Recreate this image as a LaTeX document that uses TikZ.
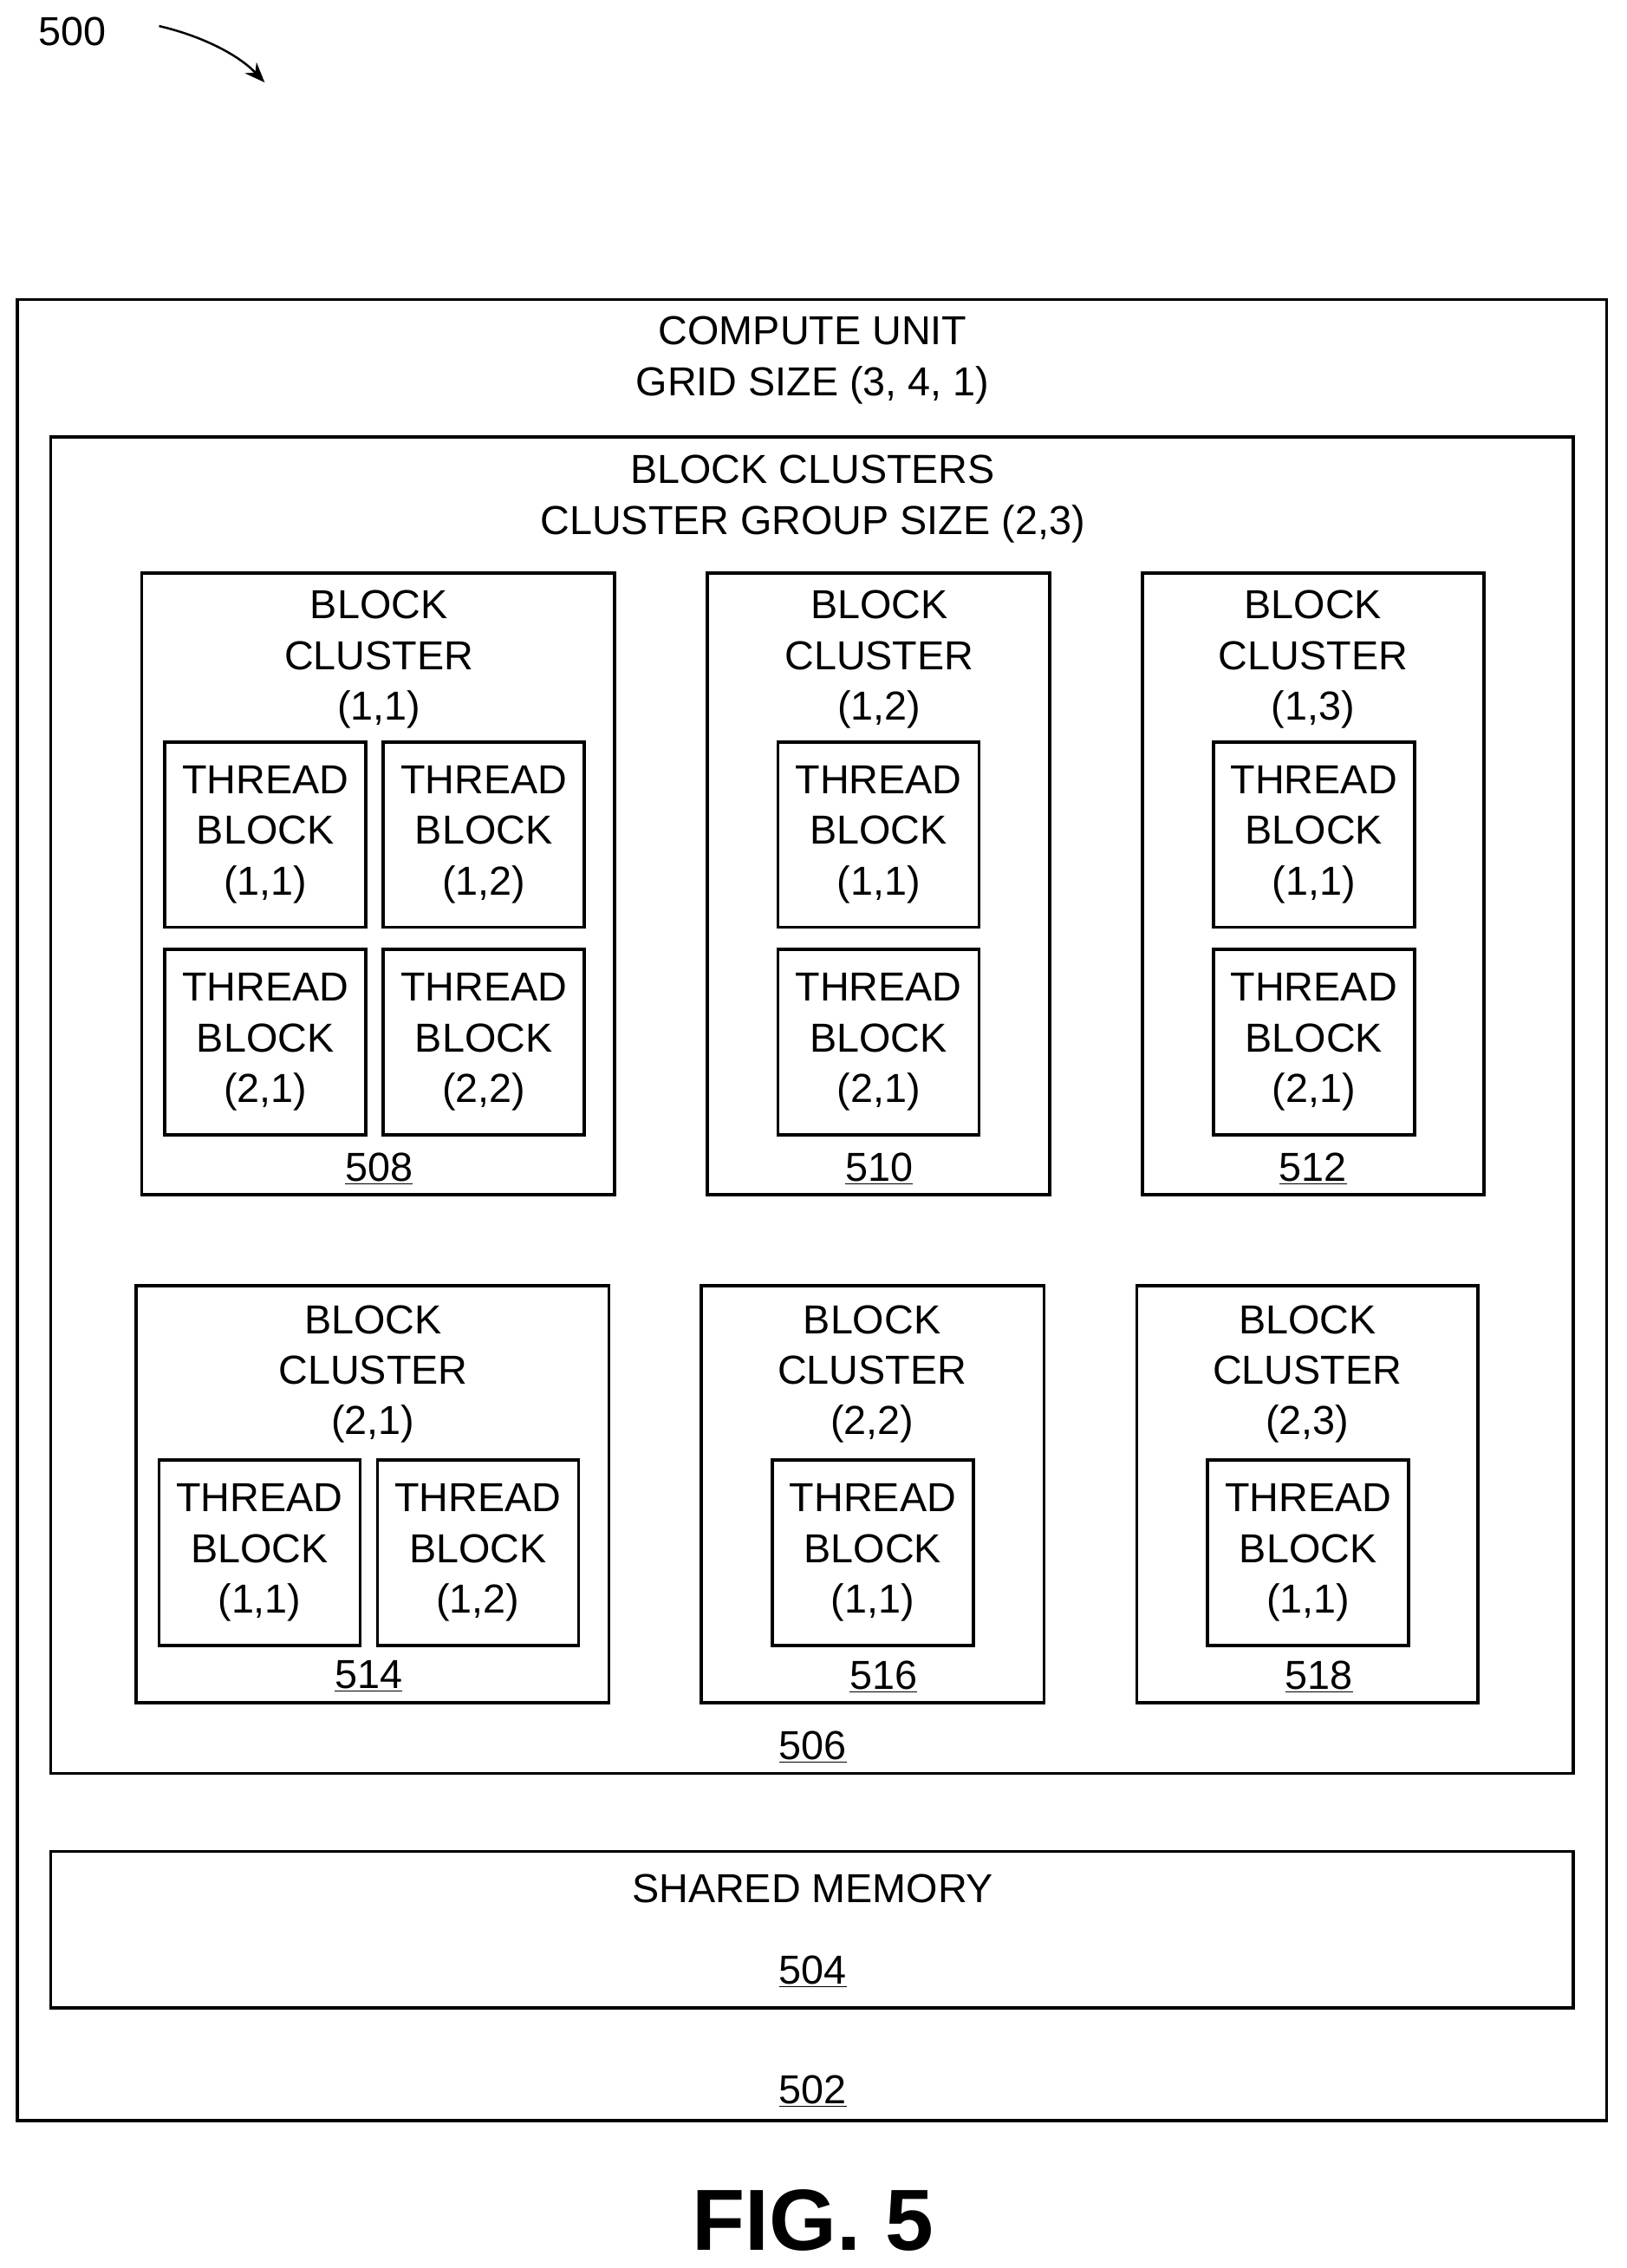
\documentclass[tikz,border=0pt]{standalone}
\usepackage{fontspec}
\setmainfont{Liberation Sans}
\usetikzlibrary{arrows.meta}

\begin{document}
\begin{tikzpicture}[x=1pt,y=-1pt,
		box/.style={draw,line width=2.2pt},
		txt/.style={align=center,inner sep=0pt,font=\fontsize{28}{35}\selectfont},
		tblock/.style={box,txt,minimum width=139pt,minimum height=128pt}]
		\useasboundingbox (0,0) rectangle (1125,1568);
		\newcommand{\reflabel}[3]{\node[txt] (#1) at (#2) {\underline{#3}};}

		\node[txt] (fig) at (50,22) {500};
		\draw[line width=1.5pt,-{Stealth[length=14pt,width=11pt]}] (110,18) .. controls (140,25) and (165,38) .. (183,57);

		% compute unit 502
		\draw[box] (12,207) rectangle (1111,1466);
		\node[txt] (cu) at (562,249) {COMPUTE UNIT\\GRID SIZE (3, 4, 1)};
		\reflabel{l502}{562,1446}{502}

		% block clusters 506
		\draw[box] (35,302) rectangle (1088,1226);
		\node[txt] (bcs) at (562,345) {BLOCK CLUSTERS\\CLUSTER GROUP SIZE (2,3)};
		\reflabel{l506}{562,1208}{506}

		% first row of clusters
		\draw[box] (98,396) rectangle (425,826);
		\draw[box] (489,396) rectangle (726,826);
		\draw[box] (790,396) rectangle (1026,826);
		\node[txt] (c11) at (262,456) {BLOCK\\CLUSTER\\(1,1)};
		\node[txt] (c12) at (608,456) {BLOCK\\CLUSTER\\(1,2)};
		\node[txt] (c13) at (908,456) {BLOCK\\CLUSTER\\(1,3)};
		\reflabel{l508}{262,808}{508}
		\reflabel{l510}{608,808}{510}
		\reflabel{l512}{908,808}{512}
		\node[tblock] (t508a) at (183.5,577) {THREAD\\BLOCK\\(1,1)};
		\node[tblock] (t508b) at (334.5,577) {THREAD\\BLOCK\\(1,2)};
		\node[tblock] (t508c) at (183.5,720.5) {THREAD\\BLOCK\\(2,1)};
		\node[tblock] (t508d) at (334.5,720.5) {THREAD\\BLOCK\\(2,2)};
		\foreach \x/\n in {607.5/510,908.5/512} {
			\node[tblock] (t\n a) at (\x,577) {THREAD\\BLOCK\\(1,1)};
			\node[tblock] (t\n b) at (\x,720.5) {THREAD\\BLOCK\\(2,1)};
		}

		% second row of clusters
		\draw[box] (94,889) rectangle (421,1177);
		\draw[box] (485,889) rectangle (722,1177);
		\draw[box] (786,889) rectangle (1022,1177);
		\node[txt] (c21) at (258,950) {BLOCK\\CLUSTER\\(2,1)};
		\node[txt] (c22) at (603,950) {BLOCK\\CLUSTER\\(2,2)};
		\node[txt] (c23) at (904,950) {BLOCK\\CLUSTER\\(2,3)};
		\reflabel{l514}{255,1159}{514}
		\reflabel{l516}{611,1159}{516}
		\reflabel{l518}{912,1159}{518}
		\node[tblock] (t514a) at (179.5,1073.5) {THREAD\\BLOCK\\(1,1)};
		\node[tblock] (t514b) at (330.5,1073.5) {THREAD\\BLOCK\\(1,2)};
		\node[tblock] (t516a) at (603.5,1073.5) {THREAD\\BLOCK\\(1,1)};
		\node[tblock] (t518a) at (904.5,1073.5) {THREAD\\BLOCK\\(1,1)};

		% shared memory 504
		\draw[box] (35,1280) rectangle (1088,1388);
		\node[txt] (shm) at (562,1306) {SHARED MEMORY};
		\reflabel{l504}{562,1363}{504}

		\node[txt,font=\fontsize{60}{70}\selectfont\bfseries] (fig5) at (562,1535) {FIG. 5};
	\end{tikzpicture}
\end{document}
